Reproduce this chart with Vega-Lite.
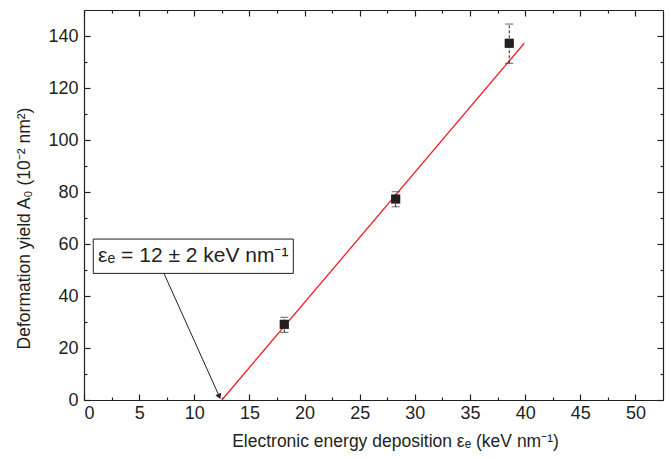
{
  "$schema": "https://vega.github.io/schema/vega-lite/v6.json",
  "width": 579,
  "height": 390,
  "autosize": {"type": "none"},
  "padding": {"left": 84, "top": 10, "right": 8, "bottom": 59},
  "background": "white",
  "config": {
    "view": {"stroke": null},
    "axis": {
      "domainColor": "#231f20", "domainWidth": 1.2, "tickColor": "#231f20", "tickWidth": 1.2,
      "grid": false, "labelFont": "Liberation Sans", "labelFontSize": 18, "labelColor": "#231f20",
      "titleFont": "Liberation Sans", "titleFontSize": 17.5, "titleFontWeight": "normal", "titleColor": "#231f20"
    }
  },
  "datasets": {
    "pts": [
      {"e": 18.16, "A": 29.1, "lo": 26.0, "hi": 31.8},
      {"e": 28.26, "A": 77.3, "lo": 74.3, "hi": 80.1},
      {"e": 38.56, "A": 137.2, "lo": 129.5, "hi": 144.6}
    ],
    "fit": [
      {"e": 12.5, "A": 0},
      {"e": 39.92, "A": 137.2}
    ],
    "note": [
      {"x1": 0.84, "x2": 18.98, "y1": 48.7, "y2": 61.9, "ax": 7.25, "ay": 48.7, "bx": 12.24, "by": 1.65, "tx": 9.91, "ty": 55.3, "label": "εₑ = 12 ± 2 keV nm⁻¹"}
    ]
  },
  "resolve": {"axis": {"x": "independent", "y": "independent"}},
  "layer": [
    {
      "data": {"name": "fit"},
      "mark": {"type": "line", "color": "#ee1c25", "strokeWidth": 1.3},
      "encoding": {
        "x": {"field": "e", "type": "quantitative", "scale": {"domain": [0, 52.5], "nice": false, "zero": false},
          "axis": {"orient": "bottom", "title": "Electronic energy deposition εₑ (keV nm⁻¹)",
            "values": [0,2.5,5,7.5,10,12.5,15,17.5,20,22.5,25,27.5,30,32.5,35,37.5,40,42.5,45,47.5,50],
            "labelExpr": "datum.value % 5 === 0 ? datum.label : ''",
            "tickSize": {"condition": {"test": "datum.value % 5 === 0", "value": -6}, "value": -3},
            "labelPadding": 10, "titlePadding": 10, "titleX": 311}},
        "y": {"field": "A", "type": "quantitative", "scale": {"domain": [0, 150], "nice": false},
          "axis": {"orient": "left", "title": "Deformation yield A₀ (10⁻² nm²)",
            "values": [0,10,20,30,40,50,60,70,80,90,100,110,120,130,140],
            "labelExpr": "datum.value % 20 === 0 ? datum.label : ''",
            "tickSize": {"condition": {"test": "datum.value % 20 === 0", "value": -6}, "value": -3},
            "labelPadding": 12, "titlePadding": 14, "titleY": 218}}
      }
    },
    {
      "data": {"name": "pts"},
      "mark": {"type": "rule", "color": "#231f20", "strokeDash": [3, 2], "strokeWidth": 1},
      "encoding": {
        "x": {"field": "e", "type": "quantitative", "axis": null},
        "y": {"field": "lo", "type": "quantitative", "axis": null},
        "y2": {"field": "hi"}
      }
    },
    {
      "data": {"name": "pts"},
      "mark": {"type": "tick", "color": "#231f20", "size": 8, "thickness": 1, "orient": "horizontal"},
      "encoding": {
        "x": {"field": "e", "type": "quantitative", "axis": null},
        "y": {"field": "lo", "type": "quantitative", "axis": null}
      }
    },
    {
      "data": {"name": "pts"},
      "mark": {"type": "tick", "color": "#231f20", "size": 8, "thickness": 1, "orient": "horizontal"},
      "encoding": {
        "x": {"field": "e", "type": "quantitative", "axis": null},
        "y": {"field": "hi", "type": "quantitative", "axis": null}
      }
    },
    {
      "data": {"name": "pts"},
      "mark": {"type": "square", "filled": true, "color": "#231f20", "size": 85, "opacity": 1},
      "encoding": {
        "x": {"field": "e", "type": "quantitative",
          "axis": {"orient": "top", "title": null, "labels": false,
            "values": [0,2.5,5,7.5,10,12.5,15,17.5,20,22.5,25,27.5,30,32.5,35,37.5,40,42.5,45,47.5,50],
            "tickSize": {"condition": {"test": "datum.value % 5 === 0", "value": -6}, "value": -3}}},
        "y": {"field": "A", "type": "quantitative",
          "axis": {"orient": "right", "title": null, "labels": false,
            "values": [0,10,20,30,40,50,60,70,80,90,100,110,120,130,140],
            "tickSize": {"condition": {"test": "datum.value % 20 === 0", "value": -6}, "value": -3}}}
      }
    },
    {
      "data": {"name": "note"},
      "mark": {"type": "rule", "color": "#231f20", "strokeWidth": 1},
      "encoding": {
        "x": {"field": "ax", "type": "quantitative", "axis": null},
        "y": {"field": "ay", "type": "quantitative", "axis": null},
        "x2": {"field": "bx"},
        "y2": {"field": "by"}
      }
    },
    {
      "data": {"name": "note"},
      "mark": {"type": "point", "shape": "triangle", "filled": true, "color": "#231f20", "size": 40, "angle": 157, "opacity": 1},
      "encoding": {
        "x": {"field": "bx", "type": "quantitative", "axis": null},
        "y": {"field": "by", "type": "quantitative", "axis": null}
      }
    },
    {
      "data": {"name": "note"},
      "mark": {"type": "rect", "fill": "white", "stroke": "#231f20", "strokeWidth": 1},
      "encoding": {
        "x": {"field": "x1", "type": "quantitative", "axis": null},
        "x2": {"field": "x2"},
        "y": {"field": "y1", "type": "quantitative", "axis": null},
        "y2": {"field": "y2"}
      }
    },
    {
      "data": {"name": "note"},
      "mark": {"type": "text", "font": "Liberation Sans", "fontSize": 21, "color": "#231f20", "align": "center", "baseline": "middle"},
      "encoding": {
        "x": {"field": "tx", "type": "quantitative", "axis": null},
        "y": {"field": "ty", "type": "quantitative", "axis": null},
        "text": {"field": "label"}
      }
    }
  ]
}
